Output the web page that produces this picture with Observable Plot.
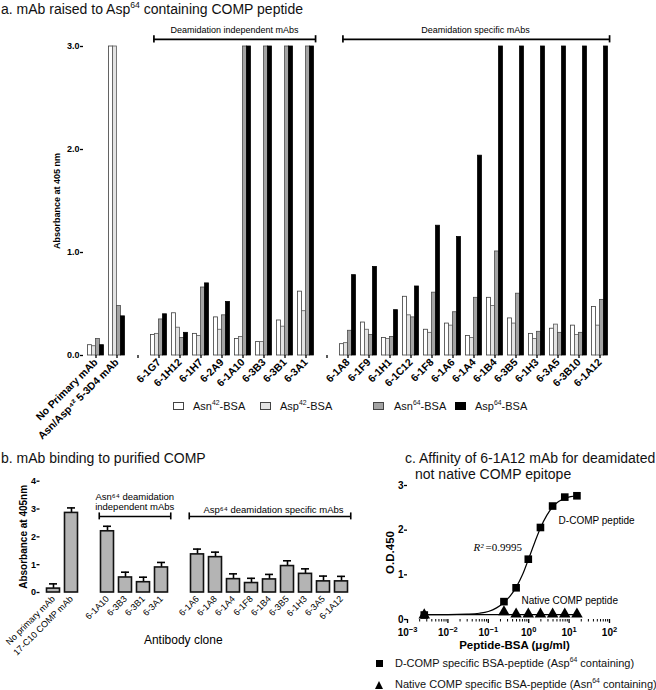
<!DOCTYPE html>
<html><head><meta charset="utf-8">
<script src="https://cdn.jsdelivr.net/npm/d3@7"></script>
<script src="https://cdn.jsdelivr.net/npm/@observablehq/plot@0.6"></script>
<style>
body{margin:0;background:#fff;font-family:"Liberation Sans",Arial,sans-serif;color:#111;}
#root{position:relative;width:656px;height:690px;overflow:hidden;background:#fff;}
.abs{position:absolute;white-space:nowrap;}
.title{font-size:14px;line-height:16px;}
sup{font-size:62%;line-height:0;vertical-align:super;}
.leg{font-size:11px;line-height:12px;}
.sw{position:absolute;width:11px;height:8px;box-sizing:border-box;border:1px solid #444;}
</style></head>
<body><div id="root"></div>
<script>
// ---------- Panel a data ----------
const clonesA = ["No Primary mAb","Asn/Asp⁴² 5-3D4 mAb","6-1G7","6-1H12","6-1H7","6-2A9","6-1A10","6-3B3","6-3B1","6-3A1","6-1A8","6-1F9","6-1H1","6-1C12","6-1F8","6-1A6","6-1A4","6-1B4","6-3B5","6-1H3","6-3A5","6-3B10","6-1A12"];
const asn42 = [0.10,3.0,0.20,0.41,0.21,0.37,0.16,0.13,0.34,0.62,0.11,0.32,0.17,0.57,0.25,0.31,0.19,0.56,0.36,0.21,0.26,0.29,0.47];
const asp42 = [0.09,3.0,0.21,0.27,0.19,0.25,0.18,0.13,0.28,0.43,0.12,0.25,0.16,0.39,0.22,0.29,0.17,0.48,0.31,0.16,0.30,0.20,0.29];
const asn64 = [0.16,0.48,0.35,0.17,0.66,0.39,3.0,3.0,3.0,3.0,0.24,0.20,0.18,0.37,0.61,0.42,0.56,1.01,0.60,0.23,0.22,0.22,0.54];
const asp64 = [0.10,0.38,0.40,0.22,0.70,0.52,3.0,3.0,3.0,3.0,0.78,0.86,0.44,0.67,1.26,1.15,1.94,3.0,3.0,3.0,3.0,3.0,3.0];
const domainA = [...clonesA.slice(0,2),"_g1",...clonesA.slice(2,10),"_g2",...clonesA.slice(10)];
const ticksA = [0,1,2,3];
const seriesKeysA = ["asn42","asp42","asn64","asp64"];
const seriesFillA = ["#ffffff","#e3e3e3","#a3a3a3","#000000"];
const seriesStrokeA = ["#3c3c3c","#5a5a5a","#4a4a4a","#000000"];
const bracketsA = [
  {label:"Deamidation independent mAbs", from:"6-1G7", to:"6-3A1", mid:"6-2A9"},
  {label:"Deamidation specific mAbs", from:"6-1A8", to:"6-1A12", mid:"6-1A4"}
];

// ---------- Panel b data ----------
const clonesB = ["No primary mAb","17-C10 COMP mAb","6-1A10","6-3B3","6-3B1","6-3A1","6-1A6","6-1A8","6-1A4","6-1F8","6-1B4","6-3B5","6-1H3","6-3A5","6-1A12"];
const meanB = [0.14,2.86,2.20,0.54,0.37,0.90,1.37,1.27,0.48,0.34,0.47,0.95,0.67,0.40,0.40];
const errB  = [0.17,0.18,0.18,0.19,0.18,0.18,0.19,0.18,0.19,0.17,0.18,0.19,0.18,0.19,0.18];
const domainB = [...clonesB.slice(0,2),"_g1",...clonesB.slice(2,6),"_g2",...clonesB.slice(6)];
const ticksB = [0,1,2,3,4];
const bracketsB = [
  {from:"6-1A10", to:"6-3A1"},
  {from:"6-1A6", to:"6-1A12"}
];

// ---------- Panel c data ----------
const concC   = [0.0026,0.244,0.488,0.977,1.953,3.906,7.813,15.625];
const dcompC  = [0.10,0.40,0.71,1.35,2.06,2.54,2.74,2.77];
const nativeC = [0.10,0.17,0.12,0.12,0.12,0.12,0.12,0.12];
const fitXC = [0.0026,0.01,0.03,0.06,0.1,0.16,0.244,0.35,0.488,0.7,0.977,1.4,1.953,2.8,3.906,5.5,7.813,11,15.625];
const fitYC = [0.11,0.11,0.12,0.14,0.18,0.26,0.38,0.53,0.72,1.00,1.34,1.72,2.05,2.33,2.52,2.64,2.71,2.75,2.77];
const nativeFitX = [0.0026,15.625];
const nativeFitY = [0.11,0.11];
const majorTicksC = [1e-3,1e-2,1e-1,1,10,100];
const minorTicksC = [-3,-2,-1,0,1].flatMap(e => [2,3,4,5,6,7,8,9].map(m => m*Math.pow(10,e)));
const ticksYC = [0,1,2,3];

// ---------- build ----------
const root = document.getElementById("root");
const FONT = '"Liberation Sans", Arial, sans-serif';
const svgStyle = {background:"transparent", overflow:"visible", fontFamily:FONT, color:"#000"};
function place(el, left, top){ el.style.position="absolute"; el.style.left=left+"px"; el.style.top=top+"px"; el.style.maxWidth="none"; root.appendChild(el); return el; }
function html(s, left, top, cls){ const d=document.createElement("div"); d.className="abs "+(cls||""); d.innerHTML=s; d.style.left=left+"px"; d.style.top=top+"px"; root.appendChild(d); return d; }
const powFmt = d => "10^" + Math.round(Math.log10(d));

// Panel a
const rowsA = clonesA.map((c,i)=>({clone:c, asn42:asn42[i], asp42:asp42[i], asn64:asn64[i], asp64:asp64[i]}));
const WA = 625, mLA = 83, mRA = 13;
const bwA = (WA - mLA - mRA) / domainA.length;
const plotA = Plot.plot({
  width:WA, height:400, marginLeft:mLA, marginRight:mRA, marginTop:46, marginBottom:45,
  style:svgStyle,
  x:{type:"band", domain:domainA, padding:0},
  y:{domain:[0,3]},
  marks:[
    ...seriesKeysA.map((k,i)=>Plot.barY(rowsA,{x:"clone", y:k, fill:seriesFillA[i], stroke:seriesStrokeA[i], strokeWidth:0.8,
        insetLeft: bwA/2 - 8 + 4*i, insetRight: bwA/2 + 8 - 4*(i+1)})),
    Plot.axisY({ticks:ticksA, tickFormat:d3.format(".1f"), tickSize:3, tickPadding:1, fontWeight:"bold", fontSize:9, line:true, strokeWidth:1.3, label:null}),
    Plot.axisX({tickRotate:-45, tickSize:3, tickPadding:2, fontWeight:"bold", fontSize:10.5, line:true, strokeWidth:1.3, label:null, tickFormat:d=>d.startsWith("_")?"":d}),
    Plot.text(["Absorbance at 405 nm"], {text:d=>d, frameAnchor:"left", textAnchor:"middle", rotate:-90, dx:-26, fontWeight:"bold", fontSize:9}),
    Plot.ruleY(bracketsA, {x1:"from", x2:"to", y:()=>3.07, insetLeft:5.5, insetRight:1, strokeWidth:1.7}),
    Plot.ruleX(bracketsA, {x:"from", y1:()=>3.035, y2:()=>3.105, dx:5.5 - bwA/2, strokeWidth:1.7}),
    Plot.ruleX(bracketsA, {x:"to", y1:()=>3.035, y2:()=>3.105, dx:bwA/2 - 1, strokeWidth:1.7}),
    Plot.text([bracketsA[0]], {x:"mid", y:()=>3.16, dx:12.5, text:"label", fontSize:9}),
    Plot.text([bracketsA[1]], {x:"mid", y:()=>3.16, dx:1.5, text:"label", fontSize:9})
  ]
});
place(plotA, 0, 0);
html("a. mAb raised to Asp<sup>64</sup> containing COMP peptide", 1, 1, "title");
// legend a
const legA = [
  {t:"Asn<sup>42</sup>-BSA", sx:173, tx:193},
  {t:"Asp<sup>42</sup>-BSA", sx:260, tx:280},
  {t:"Asn<sup>64</sup>-BSA", sx:373, tx:394},
  {t:"Asp<sup>64</sup>-BSA", sx:455, tx:475}
];
legA.forEach((l,i)=>{
  const s=document.createElement("div"); s.className="sw"; s.style.left=l.sx+"px"; s.style.top="402px";
  s.style.background=seriesFillA[i]; s.style.borderColor=i===3?"#000":"#444"; root.appendChild(s);
  html(l.t, l.tx, 400, "leg");
});

// Panel b
const rowsB = domainB.map(c=>{ const i=clonesB.indexOf(c); return {clone:c, mean:i<0?0:meanB[i], err:i<0?null:errB[i]}; });
const rowsBErr = rowsB.filter(d=>d.err!=null);
const WB = 370, mLB = 39.5, mRB = 16;
const bwB = (WB - mLB - mRB) / domainB.length;
const plotB = Plot.plot({
  width:WB, height:200, marginLeft:mLB, marginRight:mRB, marginTop:20.7, marginBottom:68,
  style:svgStyle,
  x:{type:"band", domain:domainB, padding:0},
  y:{domain:[0,4]},
  marks:[
    Plot.ruleX(rowsBErr, {x:"clone", y1:"mean", y2:d=>d.mean+d.err, strokeWidth:1.6}),
    Plot.tickY(rowsBErr, {x:"clone", y:d=>d.mean+d.err, insetLeft:5, insetRight:5, strokeWidth:1.6}),
    Plot.barY(rowsB, {x:"clone", y:"mean", fill:"#b4b4b4", stroke:"#111", strokeWidth:1.6, insetLeft:2.5, insetRight:2.5}),
    Plot.axisY({ticks:ticksB, tickFormat:d3.format("d"), tickSize:3, tickPadding:1, fontWeight:"bold", fontSize:9, line:true, strokeWidth:1.3, label:null}),
    Plot.axisX({tickRotate:-45, tickSize:0, tickPadding:5, fontSize:9, fill:"#000", label:null, tickFormat:d=>d.startsWith("_")?"":d}),
    Plot.text(["Absorbance at 405nm"], {text:d=>d, frameAnchor:"left", textAnchor:"middle", rotate:-90, dx:-16.5, fontWeight:"bold", fontSize:10}),
    Plot.text(["Antibody clone"], {text:d=>d, frameAnchor:"bottom", dy:51, dx:-14, fontSize:12}),
    Plot.ruleY(bracketsB, {x1:"from", x2:"to", y:()=>2.73, insetLeft:1, insetRight:0, strokeWidth:1.6}),
    Plot.ruleX(bracketsB, {x:"from", y1:()=>2.61, y2:()=>2.86, dx:1 - bwB/2, strokeWidth:1.6}),
    Plot.ruleX(bracketsB, {x:"to", y1:()=>2.61, y2:()=>2.86, dx:bwB/2, strokeWidth:1.6}),
    Plot.text(["Asn⁶⁴ deamidation"], {text:d=>d, x:()=>"6-3B3", y:()=>3.45, dx:bwB/2, fontSize:9.5}),
    Plot.text(["independent mAbs"], {text:d=>d, x:()=>"6-3B3", y:()=>3.06, dx:bwB/2, fontSize:9.5}),
    Plot.text(["Asp⁶⁴ deamidation specific mAbs"], {text:d=>d, x:()=>"6-1B4", y:()=>2.98, dx:4, fontSize:9.5})
  ]
});
place(plotB, 0, 460);
html("b. mAb binding to purified COMP", 1, 450, "title");

// Panel c
const rowsC = concC.map((x,i)=>({x, d:dcompC[i], n:nativeC[i]}));
const fitC = fitXC.map((x,i)=>({x, y:fitYC[i]}));
const natFit = nativeFitX.map((x,i)=>({x, y:nativeFitY[i]}));
const plotC = Plot.plot({
  width:290, height:185, marginLeft:67, marginRight:21, marginTop:15, marginBottom:36,
  style:svgStyle,
  x:{type:"log", domain:[1e-3,1e2]},
  y:{domain:[0,3]},
  marks:[
    Plot.line(natFit, {x:"x", y:"y", stroke:"#000", strokeWidth:1.2}),
    Plot.line(fitC, {x:"x", y:"y", stroke:"#000", strokeWidth:1.2, curve:"monotone-x"}),
    Plot.dot(rowsC, {x:"x", y:"n", symbol:"triangle", r:4.3, fill:"#000"}),
    Plot.dot(rowsC, {x:"x", y:"d", symbol:"square", r:4.3, fill:"#000"}),
    Plot.axisY({ticks:ticksYC, tickFormat:d3.format("d"), tickSize:3, tickPadding:1, fontWeight:"bold", fontSize:10, line:true, strokeWidth:1.3, label:null}),
    Plot.axisX({ticks:majorTicksC, tickFormat:powFmt, tickSize:4, tickPadding:5, fontWeight:"bold", fontSize:10, line:true, strokeWidth:1.3, label:null}),
    Plot.axisX({ticks:minorTicksC, tickFormat:()=>"", tickSize:2.5, strokeWidth:1, label:null}),
    Plot.text(["O.D.450"], {text:d=>d, frameAnchor:"left", textAnchor:"middle", rotate:-90, dx:-17, fontWeight:"bold", fontSize:11.5}),
    Plot.text(["Peptide-BSA (μg/ml)"], {text:d=>d, frameAnchor:"bottom", dy:29, dx:6, fontWeight:"bold", fontSize:11.5}),
    Plot.text(["D-COMP peptide"], {text:d=>d, x:()=>5.5, y:()=>2.2, textAnchor:"start", fontSize:10}),
    Plot.text(["Native COMP peptide"], {text:d=>d, x:()=>0.66, y:()=>0.42, textAnchor:"start", fontSize:10}),
    Plot.text(["R²"], {text:d=>d, x:()=>0.043, y:()=>1.61, textAnchor:"start", fontSize:11, fontStyle:"italic", fontFamily:'"Liberation Serif", serif'}),
    Plot.text(["=0.9995"], {text:d=>d, x:()=>0.043, y:()=>1.61, dx:12, textAnchor:"start", fontSize:11, fontFamily:'"Liberation Serif", serif'})
  ]
});
// turn "10^n" tick labels into 10 with a real superscript exponent
d3.select(plotC).selectAll("text").each(function(){
  const t = this.textContent, m = /^10\^(-?\d+)$/.exec(t);
  if (!m) return;
  const sel = d3.select(this);
  sel.text("10");
  sel.append("tspan").attr("dy","-0.45em").attr("font-size","7.5px").text(m[1].replace("-","\u2212"));
});
place(plotC, 340, 470);
html("c. Affinity of 6-1A12 mAb for deamidated", 405, 450, "title");
html("not native COMP epitope", 415, 466, "title");
// legend c
const sq=document.createElement("div"); sq.style.cssText="position:absolute;left:376px;top:660px;width:7px;height:7px;background:#000;"; root.appendChild(sq);
const tri=document.createElement("div"); tri.style.cssText="position:absolute;left:375px;top:681px;width:0;height:0;border-left:4.5px solid transparent;border-right:4.5px solid transparent;border-bottom:8px solid #000;"; root.appendChild(tri);
html("D-COMP specific BSA-peptide (Asp<sup>64</sup> containing)", 395, 657, "leg");
html("Native COMP specific BSA-peptide (Asn<sup>64</sup> containing)", 395, 678, "leg");
</script>
</body></html>
